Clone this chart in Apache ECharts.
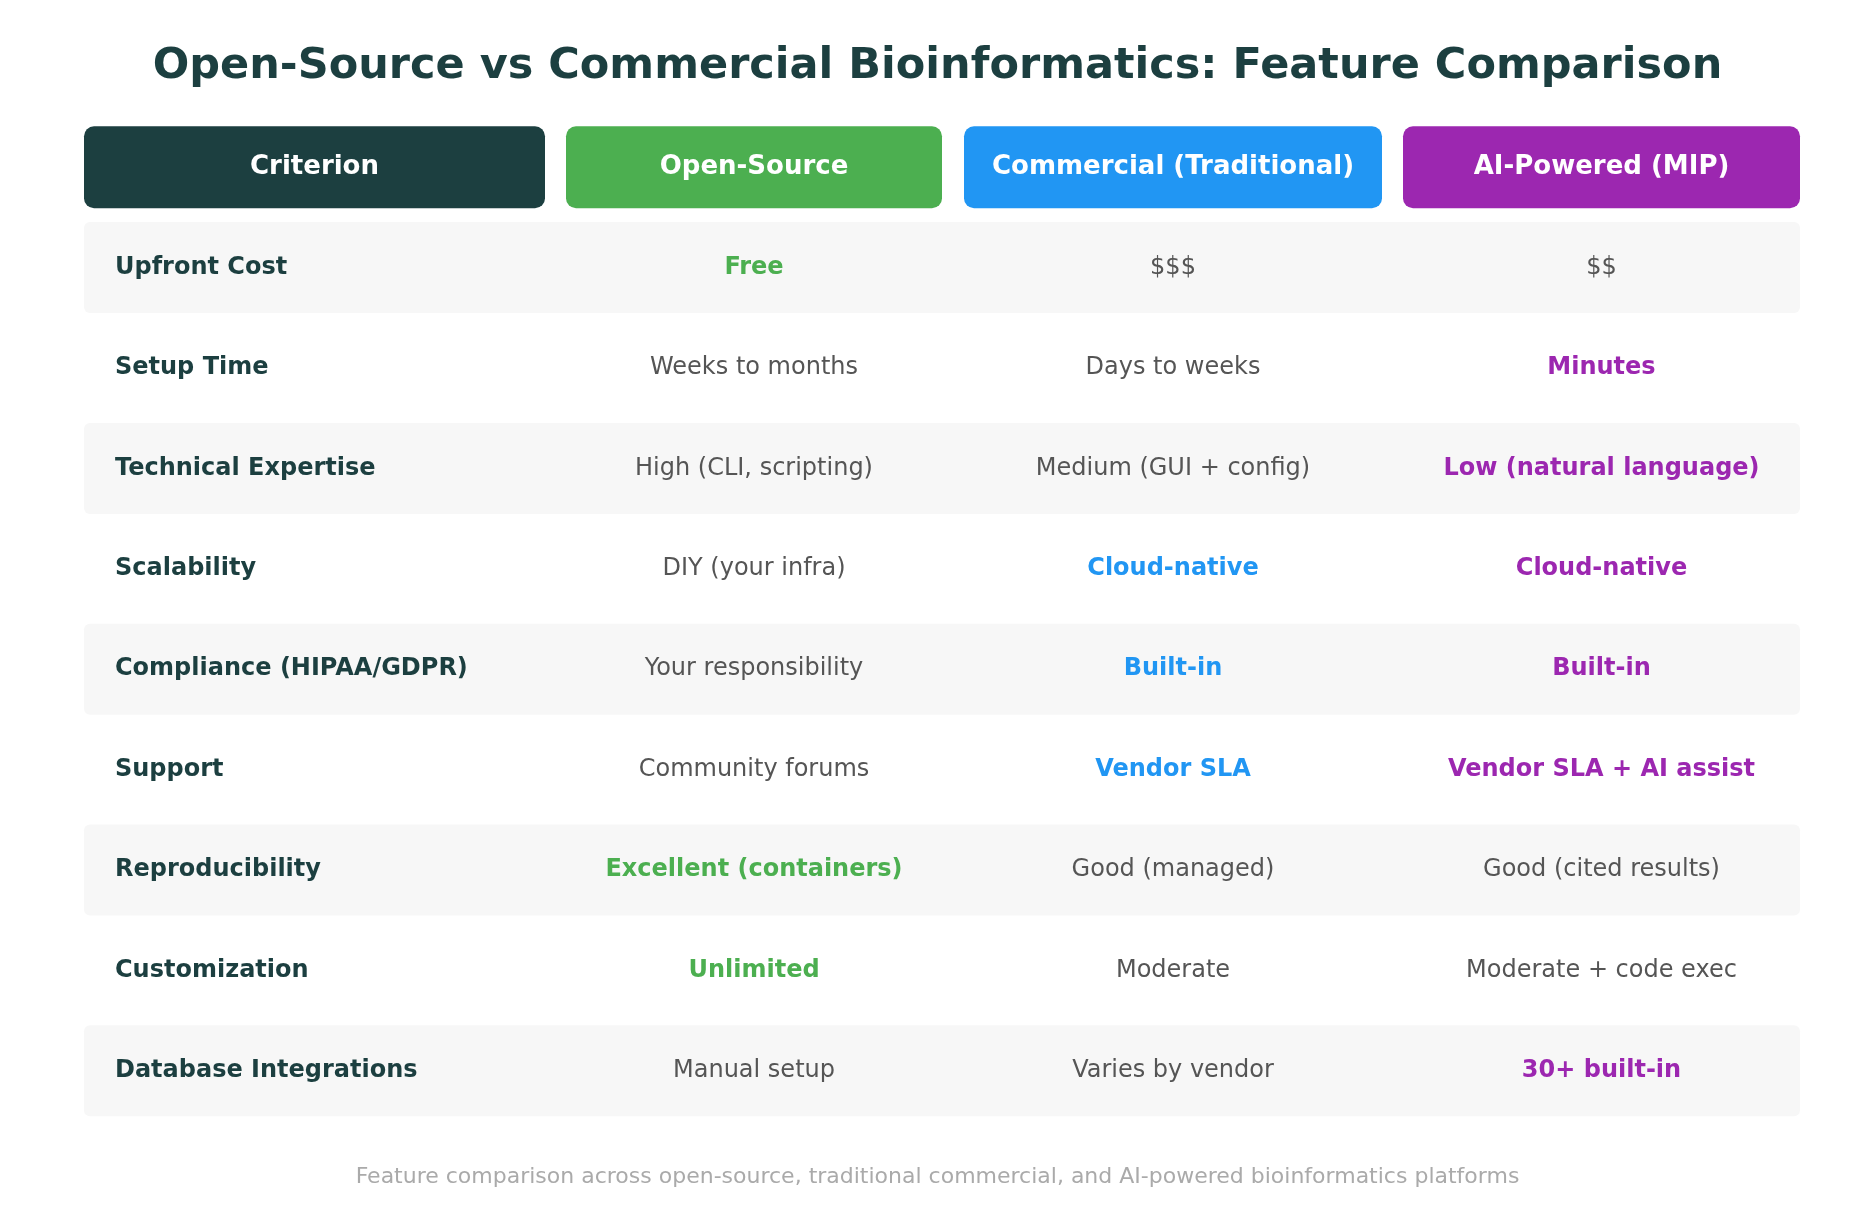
<!DOCTYPE html>
<html><head><meta charset="utf-8">
<script src="https://cdn.jsdelivr.net/npm/echarts@6/dist/echarts.min.js"></script>
<style>html,body{margin:0;padding:0;background:#fff}#c{width:1875px;height:1208px}</style>
</head><body><div id="c"></div>
<script>
const headers = ['Criterion','Open-Source','Commercial (Traditional)','AI-Powered (MIP)'];
const criteria = ['Upfront Cost','Setup Time','Technical Expertise','Scalability','Compliance (HIPAA/GDPR)','Support','Reproducibility','Customization','Database Integrations'];
const openSource = ['Free','Weeks to months','High (CLI, scripting)','DIY (your infra)','Your responsibility','Community forums','Excellent (containers)','Unlimited','Manual setup'];
const commercial = ['$$$','Days to weeks','Medium (GUI + config)','Cloud-native','Built-in','Vendor SLA','Good (managed)','Moderate','Varies by vendor'];
const aiPowered = ['$$','Minutes','Low (natural language)','Cloud-native','Built-in','Vendor SLA + AI assist','Good (cited results)','Moderate + code exec','30+ built-in'];
// highlight flags per cell (1 = highlighted in column colour)
const openHi = [1,0,0,0,0,0,1,1,0];
const commHi = [0,0,0,1,1,1,0,0,0];
const aiHi   = [0,1,1,1,1,1,0,0,1];

const FONT = 'DejaVu Sans';
const headColors = ['#1c3f40','#4caf50','#2196f3','#9c27b0'];
const cols = [[84,545],[566,942],[964,1382],[1403,1800]];
const rowCats = ['header'].concat(criteria);
const data = rowCats.map((c,i)=>[i]);

function renderItem(params, api){
  const i = api.value(0);
  const yc = api.coord([0,i])[1];
  const children = [];
  if(i===0){
    headers.forEach((h,k)=>{
      const [x0,x1]=cols[k];
      children.push({type:'rect',shape:{x:x0,y:yc-41,width:x1-x0,height:82,r:10},style:{fill:headColors[k]}});
      children.push({type:'text',style:{x:(x0+x1)/2,y:yc,text:h,fill:'#fff',font:'bold 26px "'+FONT+'"',align:'center',verticalAlign:'middle'}});
    });
  } else {
    const r = i-1;
    if(r%2===0) children.push({type:'rect',shape:{x:84,y:yc-45.5,width:1716,height:91,r:6},style:{fill:'#f7f7f7'}});
    children.push({type:'text',style:{x:115,y:yc,text:criteria[r],fill:'#1c3f40',font:'bold 24px "'+FONT+'"',align:'left',verticalAlign:'middle'}});
    const vals=[openSource[r],commercial[r],aiPowered[r]], his=[openHi[r],commHi[r],aiHi[r]];
    vals.forEach((v,k)=>{
      const [x0,x1]=cols[k+1];
      children.push({type:'text',style:{x:(x0+x1)/2,y:yc,text:v,fill:his[k]?headColors[k+1]:'#555',
        font:(his[k]?'bold ':'')+'24px "'+FONT+'"',align:'center',verticalAlign:'middle'}});
    });
  }
  return {type:'group',children};
}

const chart = echarts.init(document.getElementById('c'));
chart.setOption({
  backgroundColor:'#fff',
  title:[{text:'Open-Source vs Commercial Bioinformatics: Feature Comparison',left:'center',top:40,
    textStyle:{fontFamily:FONT,fontSize:43,fontWeight:'bold',color:'#1c3f40'}},
    {text:'Feature comparison across open-source, traditional commercial, and AI-powered bioinformatics platforms',left:'center',top:1161,
    textStyle:{fontFamily:FONT,fontSize:22,fontWeight:'normal',color:'#aaa'}}],
  grid:{left:0,right:0,top:117,bottom:87},
  xAxis:{type:'value',min:0,max:1,show:false},
  yAxis:{type:'category',data:rowCats,inverse:true,show:false},
  series:[{type:'custom',renderItem,data,encode:{y:0},animation:false}]
});
</script></body></html>
